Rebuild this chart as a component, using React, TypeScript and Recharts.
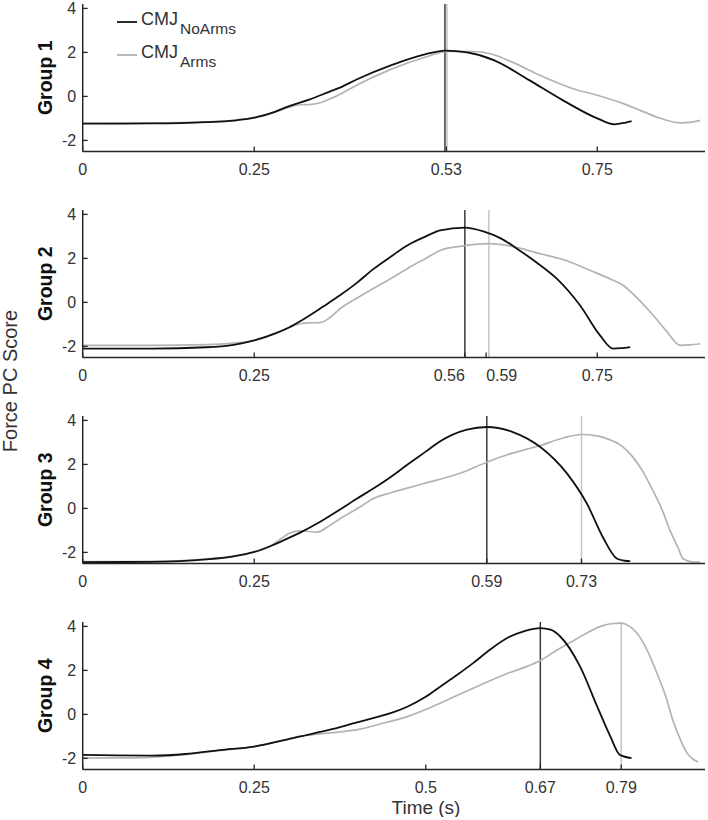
import React from 'react';
import { LineChart, Line, XAxis, YAxis, ReferenceLine, Legend } from 'recharts';

// ---------- data ----------
const groupNames = ['Group 1', 'Group 2', 'Group 3', 'Group 4'];
const yTicks = [-2, 0, 2, 4];
const yTickLabels = ['-2', '0', '2', '4'];

// Group 1
const g1NoArmsT = [0, 0.1, 0.18, 0.22, 0.25, 0.28, 0.3, 0.33, 0.36, 0.375, 0.4, 0.45, 0.5, 0.528, 0.56, 0.6, 0.65, 0.7, 0.75, 0.775, 0.79, 0.8];
const g1NoArmsV = [-1.24, -1.23, -1.17, -1.1, -0.97, -0.7, -0.45, -0.15, 0.22, 0.4, 0.78, 1.42, 1.92, 2.08, 2.0, 1.64, 0.75, -0.18, -1.0, -1.27, -1.2, -1.12];
const g1ArmsT = [0, 0.1, 0.18, 0.22, 0.25, 0.28, 0.3, 0.317, 0.33, 0.345, 0.36, 0.38, 0.4, 0.45, 0.5, 0.531, 0.57, 0.594, 0.63, 0.667, 0.715, 0.75, 0.788, 0.81, 0.837, 0.871, 0.885, 0.9];
const g1ArmsV = [-1.22, -1.21, -1.16, -1.09, -0.98, -0.72, -0.5, -0.38, -0.37, -0.3, -0.12, 0.18, 0.52, 1.24, 1.79, 2.05, 2.04, 1.94, 1.5, 0.95, 0.35, 0.05, -0.33, -0.6, -0.94, -1.2, -1.18, -1.09];

// Group 2
const g2NoArmsT = [0, 0.1, 0.18, 0.22, 0.25, 0.28, 0.3, 0.32, 0.35, 0.375, 0.4, 0.423, 0.45, 0.473, 0.5, 0.521, 0.557, 0.584, 0.61, 0.633, 0.66, 0.691, 0.725, 0.754, 0.773, 0.785, 0.798];
const g2NoArmsV = [-2.1, -2.1, -2.04, -1.93, -1.73, -1.42, -1.15, -0.8, -0.2, 0.32, 0.9, 1.5, 2.1, 2.59, 3.0, 3.27, 3.4, 3.23, 2.9, 2.44, 1.85, 1.08, -0.14, -1.5, -2.1, -2.08, -2.03];
const g2ArmsT = [0, 0.1, 0.18, 0.22, 0.25, 0.28, 0.3, 0.317, 0.33, 0.346, 0.36, 0.375, 0.4, 0.423, 0.45, 0.473, 0.5, 0.521, 0.55, 0.592, 0.62, 0.667, 0.7, 0.74, 0.77, 0.788, 0.805, 0.823, 0.84, 0.852, 0.871, 0.885, 0.9];
const g2ArmsV = [-1.95, -1.95, -1.92, -1.85, -1.73, -1.4, -1.15, -0.97, -0.93, -0.92, -0.7, -0.29, 0.2, 0.62, 1.1, 1.53, 2.0, 2.36, 2.55, 2.67, 2.58, 2.21, 1.95, 1.45, 1.05, 0.77, 0.3, -0.29, -0.9, -1.35, -1.95, -1.93, -1.88];

// Group 3
const g3NoArmsT = [0, 0.1, 0.18, 0.22, 0.25, 0.273, 0.288, 0.302, 0.317, 0.341, 0.375, 0.4, 0.423, 0.45, 0.473, 0.5, 0.521, 0.56, 0.589, 0.627, 0.667, 0.706, 0.735, 0.758, 0.779, 0.79, 0.798];
const g3NoArmsV = [-2.44, -2.43, -2.32, -2.18, -1.98, -1.72, -1.52, -1.32, -1.1, -0.7, -0.05, 0.45, 0.89, 1.45, 1.98, 2.58, 3.05, 3.58, 3.7, 3.47, 2.79, 1.58, 0.21, -1.3, -2.29, -2.38, -2.4];
const g3ArmsT = [0, 0.1, 0.18, 0.22, 0.25, 0.273, 0.288, 0.302, 0.317, 0.33, 0.341, 0.36, 0.375, 0.404, 0.423, 0.45, 0.496, 0.55, 0.589, 0.62, 0.667, 0.7, 0.727, 0.75, 0.764, 0.785, 0.802, 0.817, 0.831, 0.845, 0.856, 0.868, 0.875, 0.89, 0.9];
const g3ArmsV = [-2.42, -2.41, -2.3, -2.17, -1.98, -1.73, -1.4, -1.12, -1.02, -1.05, -1.08, -0.78, -0.47, 0.06, 0.44, 0.72, 1.12, 1.6, 2.1, 2.45, 2.86, 3.2, 3.36, 3.3, 3.17, 2.85, 2.33, 1.65, 0.82, -0.1, -1.0, -1.8, -2.29, -2.44, -2.44];

// Group 4
const g4NoArmsT = [0, 0.05, 0.1, 0.15, 0.2, 0.25, 0.3, 0.317, 0.365, 0.4, 0.423, 0.45, 0.473, 0.5, 0.521, 0.545, 0.569, 0.594, 0.618, 0.645, 0.667, 0.682, 0.696, 0.725, 0.75, 0.769, 0.783, 0.8];
const g4NoArmsV = [-1.84, -1.86, -1.87, -1.8, -1.62, -1.46, -1.12, -1.0, -0.66, -0.36, -0.17, 0.07, 0.35, 0.8, 1.26, 1.78, 2.33, 2.95, 3.46, 3.8, 3.92, 3.85, 3.54, 2.17, 0.35, -1.0, -1.84, -1.99];
const g4ArmsT = [0, 0.05, 0.1, 0.15, 0.2, 0.25, 0.3, 0.317, 0.365, 0.404, 0.44, 0.473, 0.5, 0.521, 0.569, 0.618, 0.645, 0.667, 0.69, 0.715, 0.735, 0.754, 0.77, 0.785, 0.797, 0.808, 0.823, 0.837, 0.85, 0.86, 0.872, 0.881, 0.89, 0.897];
const g4ArmsV = [-1.99, -1.98, -1.95, -1.82, -1.64, -1.46, -1.12, -1.0, -0.83, -0.67, -0.38, -0.1, 0.22, 0.51, 1.19, 1.85, 2.15, 2.45, 2.9, 3.35, 3.7, 3.99, 4.12, 4.15, 4.0, 3.69, 2.9, 1.87, 0.8, -0.25, -1.2, -1.76, -2.05, -2.15];

// x ticks and labels per group
const xTicks1 = [0, 0.25, 0.53, 0.75];
const xTickLabels1 = ['0', '0.25', '0.53', '0.75'];
const xTicks2 = [0, 0.25, 0.557, 0.588, 0.75];
const xTickLabels2 = ['0', '0.25', '0.56', '0.59', '0.75'];
const xTicks3 = [0, 0.25, 0.589, 0.727];
const xTickLabels3 = ['0', '0.25', '0.59', '0.73'];
const xTicks4 = [0, 0.25, 0.5, 0.667, 0.785];
const xTickLabels4 = ['0', '0.25', '0.5', '0.67', '0.79'];

// peak-force times (vertical lines)
const peakNoArms = [0.528, 0.557, 0.589, 0.667];
const peakArms = [0.531, 0.592, 0.727, 0.785];

// ---------- styling ----------
const FONT = '"Liberation Sans", Arial, Helvetica, sans-serif';
const AXIS = '#262626';
const TEXT = '#333333';
const BLACK = '#111111';
const GRAY = '#b3b3b3';
const REF_BLACK = '#3a3a3a';
const REF_GRAY = '#c4c4c4';

const PLOT_H = 147.4;
const MT = 10;
const XH = 48;
const CH = MT + PLOT_H + XH;
const bottoms = [151.5, 357, 563, 769.5];

type Pt = { t: number; v: number };
const zip = (t: number[], v: number[]): Pt[] => t.map((x, i) => ({ t: x, v: v[i] }));

const panels = [
  { noArms: zip(g1NoArmsT, g1NoArmsV), arms: zip(g1ArmsT, g1ArmsV), ticks: xTicks1, labels: xTickLabels1, anchors: ['middle', 'middle', 'middle', 'middle'] },
  { noArms: zip(g2NoArmsT, g2NoArmsV), arms: zip(g2ArmsT, g2ArmsV), ticks: xTicks2, labels: xTickLabels2, anchors: ['middle', 'middle', 'end', 'start', 'middle'] },
  { noArms: zip(g3NoArmsT, g3NoArmsV), arms: zip(g3ArmsT, g3ArmsV), ticks: xTicks3, labels: xTickLabels3, anchors: ['middle', 'middle', 'middle', 'middle'] },
  { noArms: zip(g4NoArmsT, g4NoArmsV), arms: zip(g4ArmsT, g4ArmsV), ticks: xTicks4, labels: xTickLabels4, anchors: ['middle', 'middle', 'middle', 'middle', 'middle'] },
];

const makeXTick = (ticks: number[], labels: string[], anchors: string[]) => (props: any) => {
  const { x, y, payload } = props;
  let i = ticks.findIndex((t) => Math.abs(t - payload.value) < 1e-9);
  if (i < 0) i = props.index ?? 0;
  return (
    <g>
      <line x1={x} x2={x} y1={y} y2={y - 5} stroke={AXIS} strokeWidth={1.3} />
      <text x={x} y={y + 24} textAnchor={anchors[i] as any} fontFamily={FONT} fontSize={16} fill={TEXT}>
        {labels[i]}
      </text>
    </g>
  );
};

const YTick = (props: any) => {
  const { x, y, payload } = props;
  let i = yTicks.findIndex((t) => t === payload.value);
  if (i < 0) i = 0;
  return (
    <g>
      <line x1={x} x2={x + 5} y1={y} y2={y} stroke={AXIS} strokeWidth={1.3} />
      <text x={x - 6.5} y={y + 5.6} textAnchor="end" fontFamily={FONT} fontSize={16} fill={TEXT}>
        {yTickLabels[i]}
      </text>
    </g>
  );
};

const groupLabel = (name: string) => () => (
  <text
    transform={`translate(51.5, ${MT + PLOT_H / 2}) rotate(-90)`}
    textAnchor="middle"
    fontFamily={FONT}
    fontSize={19.5}
    fontWeight="bold"
    fill="#111"
  >
    {name}
  </text>
);

const timeLabel = () => (
  <text x={426} y={MT + PLOT_H + 44.5} textAnchor="middle" fontFamily={FONT} fontSize={19} fill={TEXT}>
    Time (s)
  </text>
);

const LegendBox = () => (
  <svg width={150} height={75} style={{ display: 'block' }}>
    <line x1={7} x2={27} y1={22} y2={22} stroke={BLACK} strokeWidth={1.8} />
    <text x={31} y={25} fontFamily={FONT} fontSize={18} fill={TEXT}>
      CMJ
      <tspan dx={2} dy={8.5} fontSize={15.5}>NoArms</tspan>
    </text>
    <line x1={7} x2={27} y1={55} y2={55} stroke={GRAY} strokeWidth={1.8} />
    <text x={31} y={58} fontFamily={FONT} fontSize={18} fill={TEXT}>
      CMJ
      <tspan dx={2} dy={9} fontSize={15.5}>Arms</tspan>
    </text>
  </svg>
);

export default function App() {
  return (
    <div style={{ position: 'absolute', left: 0, top: 0, width: 708, height: 820, background: '#fff', overflow: 'hidden' }}>
      {panels.map((p, idx) => {
        const top = bottoms[idx] - PLOT_H - MT;
        return (
          <div key={idx} style={{ position: 'absolute', left: 0, top }}>
            <LineChart width={708} height={CH} margin={{ top: MT, right: 3, bottom: 0, left: 22.7 }}>
              <XAxis
                dataKey="t"
                type="number"
                domain={[0, 0.907]}
                allowDataOverflow
                ticks={p.ticks}
                interval={0}
                height={XH}
                tickSize={0}
                tickMargin={0}
                tickLine={false}
                axisLine={{ stroke: AXIS, strokeWidth: 1.5 }}
                tick={makeXTick(p.ticks, p.labels, p.anchors)}
                label={idx === 3 ? timeLabel : undefined}
              />
              <YAxis
                type="number"
                domain={[-2.5, 4.2]}
                allowDataOverflow
                ticks={yTicks}
                interval={0}
                width={60}
                tickSize={0}
                tickMargin={0}
                tickLine={false}
                axisLine={{ stroke: AXIS, strokeWidth: 1.5 }}
                tick={YTick}
                label={groupLabel(groupNames[idx])}
              />
              <ReferenceLine x={peakArms[idx]} stroke={REF_GRAY} strokeWidth={1.5} />
              <ReferenceLine x={peakNoArms[idx]} stroke={REF_BLACK} strokeWidth={1.5} />
              <Line
                data={p.arms}
                dataKey="v"
                name="CMJ Arms"
                type="monotone"
                stroke={GRAY}
                strokeWidth={1.7}
                dot={false}
                activeDot={false}
                isAnimationActive={false}
              />
              <Line
                data={p.noArms}
                dataKey="v"
                name="CMJ NoArms"
                type="monotone"
                stroke={BLACK}
                strokeWidth={1.8}
                dot={false}
                activeDot={false}
                isAnimationActive={false}
              />
              {idx === 0 && (
                <Legend
                  layout="horizontal"
                  verticalAlign="middle"
                  align="center"
                  wrapperStyle={{ left: 110, top: -top, width: 150, height: 75 }}
                  content={() => <LegendBox />}
                />
              )}
            </LineChart>
          </div>
        );
      })}
      <svg width={708} height={820} style={{ position: 'absolute', left: 0, top: 0, pointerEvents: 'none' }}>
        <text transform="translate(17, 381) rotate(-90)" textAnchor="middle" fontFamily={FONT} fontSize={20} fill={TEXT}>
          Force PC Score
        </text>
      </svg>
    </div>
  );
}
